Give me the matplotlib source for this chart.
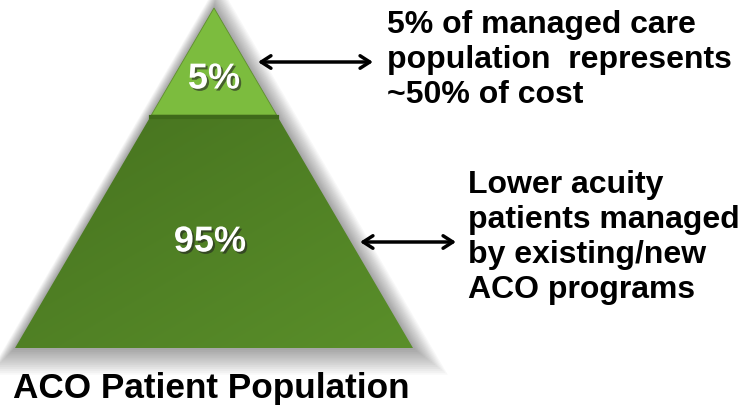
import numpy as np
import matplotlib
matplotlib.use("Agg")
import matplotlib.pyplot as plt
import matplotlib.patheffects as pe
from matplotlib.patches import Polygon

plt.rcParams["font.family"] = ["Liberation Sans", "DejaVu Sans"]

# data
tiers = ["top", "base"]
tier_labels = ["5%", "95%"]
tier_notes = ["5% of managed care\npopulation  represents\n~50% of cost",
              "Lower acuity\npatients managed\nby existing/new\nACO programs"]
title = "ACO Patient Population"

# layout in pixel space (y down)
W, H = 746, 406
apex = (214, 9)
base_y, base_l, base_r = 349, 15, 413
split_y = 116

fig = plt.figure(figsize=(W / 100, H / 100), dpi=100)
ax = fig.add_axes([0, 0, 1, 1])
ax.set_xlim(0, W); ax.set_ylim(H, 0); ax.axis("off")

def xat(y, side):
    t = (y - apex[1]) / (base_y - apex[1])
    end = base_l if side == "l" else base_r
    return apex[0] + (end - apex[0]) * t

# soft shadow halo
cx, cy = 214, 230
tri = np.array([apex, (base_r, base_y), (base_l, base_y)], float)
for k in range(14, 0, -1):
    s = 1 + k * 0.011
    pts = (tri - [cx, cy]) * s + [cx + k * 0.3, cy + k * 0.6]
    ax.add_patch(Polygon(pts, closed=True, fc="#000000", ec="none", alpha=0.028))

# top tier
top = [apex, (xat(split_y, "r"), split_y), (xat(split_y, "l"), split_y)]
ax.add_patch(Polygon(top, closed=True, fc="#7cbc3e", ec="#5e8f2c", lw=0.6))

# base tier with gradient
bot = [(xat(split_y, "l"), split_y), (xat(split_y, "r"), split_y),
       (base_r, base_y), (base_l, base_y)]
poly = Polygon(bot, closed=True, fc="none", ec="none")
ax.add_patch(poly)
gx, gy = np.meshgrid(np.linspace(0, 1, 200), np.linspace(0, 1, 200))
g = 0.5 * gx + 0.5 * gy
c0 = np.array([0x46, 0x72, 0x1f]) / 255
c1 = np.array([0x5a, 0x8f, 0x2a]) / 255
img = c0 + (c1 - c0) * g[..., None]
im = ax.imshow(img, extent=(base_l, base_r, base_y, split_y), origin="upper",
               interpolation="bilinear", zorder=2)
im.set_clip_path(poly)
ax.plot([xat(split_y, "l"), xat(split_y, "r")], [split_y + 1.5, split_y + 1.5],
        color="#3f6a1a", lw=3, zorder=3)

shadow = [pe.SimplePatchShadow(offset=(1.5, -1.5), shadow_rgbFace="#222222", alpha=0.6), pe.Normal()]
label_pos = [(214, 80), (210, 243)]
for (x, y), lab in zip(label_pos, tier_labels):
    ax.text(x, y, lab, color="white", fontsize=26, fontweight="bold",
            ha="center", va="center", path_effects=shadow, zorder=5)

# arrows and notes
arrows = [((258, 63), (373, 63)), ((360, 243), (456, 243))]
note_pos = [(387, 10), (468, 170)]
for (a, b), (nx, ny), note in zip(arrows, note_pos, tier_notes):
    ax.annotate("", xy=b, xytext=a,
                arrowprops=dict(arrowstyle="<->,head_length=0.7,head_width=0.45",
                                lw=2.5, color="black", shrinkA=0, shrinkB=0))
    ax.text(nx, ny, note, fontsize=23, fontweight="bold", ha="left", va="top",
            linespacing=1.22)

ax.text(211, 389, title, fontsize=25.3, fontweight="bold", ha="center", va="center")

fig.savefig("out.png", dpi=100)
